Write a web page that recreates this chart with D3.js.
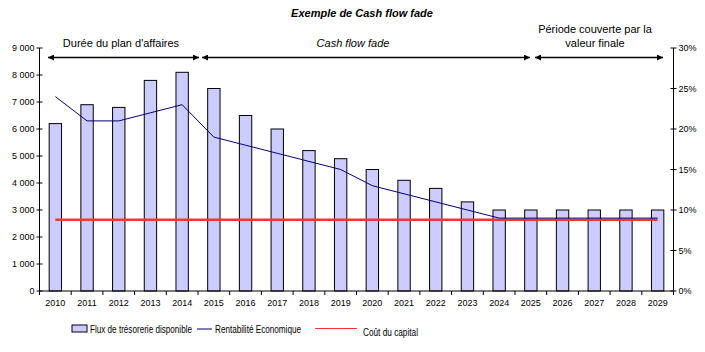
<!DOCTYPE html>
<html><head><meta charset="utf-8">
<script src="https://cdn.jsdelivr.net/npm/d3@7"></script>
<style>body{margin:0;background:#fff}svg{display:block;font-family:"Liberation Sans",Arial,sans-serif}</style>
</head><body><svg id="c" width="705" height="352"></svg>
<script>
const years = ["2010","2011","2012","2013","2014","2015","2016","2017","2018","2019","2020","2021","2022","2023","2024","2025","2026","2027","2028","2029"];
const flux = [6200,6900,6800,7800,8100,7500,6500,6000,5200,4900,4500,4100,3800,3300,3000,3000,3000,3000,3000,3000];
const rentab = [0.24,0.21,0.21,0.22,0.23,0.19,0.18,0.17,0.16,0.15,0.13,0.12,0.11,0.10,0.09,0.09,0.09,0.09,0.09,0.09];
const cout = years.map(() => 0.088);
const leftTicks = [0,1000,2000,3000,4000,5000,6000,7000,8000,9000];
const rightTicks = [0,0.05,0.10,0.15,0.20,0.25,0.30];

const svg = d3.select("#c");
const L = 39.5, R = 673.5, T = 48, B = 291;
const x = d3.scaleBand().domain(years).range([L, R]).paddingInner(0.61).paddingOuter(0.305);
const xb = d3.scaleBand().domain(years).range([L, R]);
const y = d3.scaleLinear().domain([0, 9000]).range([B, T]);
const y2 = d3.scaleLinear().domain([0, 0.30]).range([B, T]);
const fmt = d => d3.format(",")(d).replace(/,/g, " ");

// title
svg.append("text").attr("x", 362).attr("y", 17).attr("text-anchor", "middle")
  .attr("font-size", 11).attr("font-weight", "bold").attr("font-style", "italic").text("Exemple de Cash flow fade");

// bars
svg.selectAll("rect.bar").data(years).join("rect").attr("class","bar")
  .attr("x", d => x(d)).attr("width", x.bandwidth())
  .attr("y", (d,i) => y(flux[i])).attr("height", (d,i) => B - y(flux[i]))
  .attr("fill", "#CCCCFF").attr("stroke", "#000").attr("stroke-width", 1);

// lines
const cx = d => xb(d) + xb.bandwidth()/2;
svg.append("path").datum(years).attr("fill","none").attr("stroke","#FF3333").attr("stroke-width",2.5)
  .attr("d", d3.line().x(cx).y((d,i) => y2(cout[i])));
svg.append("path").datum(years).attr("fill","none").attr("stroke","#000080").attr("stroke-width",1)
  .attr("d", d3.line().x(cx).y((d,i) => y2(rentab[i])));

// axes
const ax = svg.append("g").attr("font-size", 9);
ax.append("line").attr("x1",L).attr("x2",L).attr("y1",T).attr("y2",B).attr("stroke","#000");
ax.append("line").attr("x1",R).attr("x2",R).attr("y1",T).attr("y2",B).attr("stroke","#000");
ax.append("line").attr("x1",L).attr("x2",R).attr("y1",B).attr("y2",B).attr("stroke","#000");
leftTicks.forEach(t => {
  ax.append("line").attr("x1",L-3).attr("x2",L+3).attr("y1",y(t)).attr("y2",y(t)).attr("stroke","#000");
  ax.append("text").attr("x",L-5).attr("y",y(t)+3).attr("text-anchor","end").text(fmt(t));
});
rightTicks.forEach(t => {
  ax.append("line").attr("x1",R-3).attr("x2",R+3).attr("y1",y2(t)).attr("y2",y2(t)).attr("stroke","#000");
  ax.append("text").attr("x",R+5).attr("y",y2(t)+3).text(d3.format(".0%")(t));
});
years.concat(["end"]).forEach((d,i) => {
  const px = L + i*xb.bandwidth();
  ax.append("line").attr("x1",px).attr("x2",px).attr("y1",B).attr("y2",B+4).attr("stroke","#000");
});
years.forEach(d => ax.append("text").attr("x",cx(d)).attr("y",306).attr("text-anchor","middle").text(d));

// arrow annotations
const defs = svg.append("defs");
defs.append("marker").attr("id","ah").attr("viewBox","0 0 10 10").attr("refX",10).attr("refY",5)
  .attr("markerWidth",8).attr("markerHeight",6).attr("markerUnits","userSpaceOnUse").attr("orient","auto-start-reverse")
  .append("path").attr("d","M0,0L10,5L0,10z").attr("fill","#000");
const arrows = [[48,199],[202,530],[535,663]];
arrows.forEach(a => svg.append("line").attr("x1",a[0]).attr("x2",a[1]).attr("y1",57.5).attr("y2",57.5)
  .attr("stroke","#000").attr("stroke-width",1.3).attr("marker-start","url(#ah)").attr("marker-end","url(#ah)"));
svg.append("text").attr("x",121).attr("y",47).attr("text-anchor","middle").attr("font-size",11).text("Durée du plan d'affaires");
svg.append("text").attr("x",353).attr("y",47).attr("text-anchor","middle").attr("font-size",11).attr("font-style","italic").text("Cash flow fade");
svg.append("text").attr("x",595).attr("y",33).attr("text-anchor","middle").attr("font-size",11).text("Période couverte par la");
svg.append("text").attr("x",595).attr("y",47).attr("text-anchor","middle").attr("font-size",11).text("valeur finale");

// legend
const lg = svg.append("g").attr("font-size", 10);
lg.append("rect").attr("x",72).attr("y",325).attr("width",15).attr("height",7).attr("fill","#CCCCFF").attr("stroke","#000");
lg.append("text").attr("x",90).attr("y",332.5).attr("textLength",102).attr("lengthAdjust","spacingAndGlyphs").text("Flux de trésorerie disponible");
lg.append("line").attr("x1",197).attr("x2",212).attr("y1",329).attr("y2",329).attr("stroke","#000080");
lg.append("text").attr("x",215).attr("y",332.5).attr("textLength",86).attr("lengthAdjust","spacingAndGlyphs").text("Rentabilité Economique");
lg.append("line").attr("x1",315).attr("x2",357).attr("y1",328.5).attr("y2",328.5).attr("stroke","#FF3333").attr("stroke-width",1);
lg.append("text").attr("x",363).attr("y",335.5).attr("textLength",55).attr("lengthAdjust","spacingAndGlyphs").text("Coût du capital");
</script></body></html>
